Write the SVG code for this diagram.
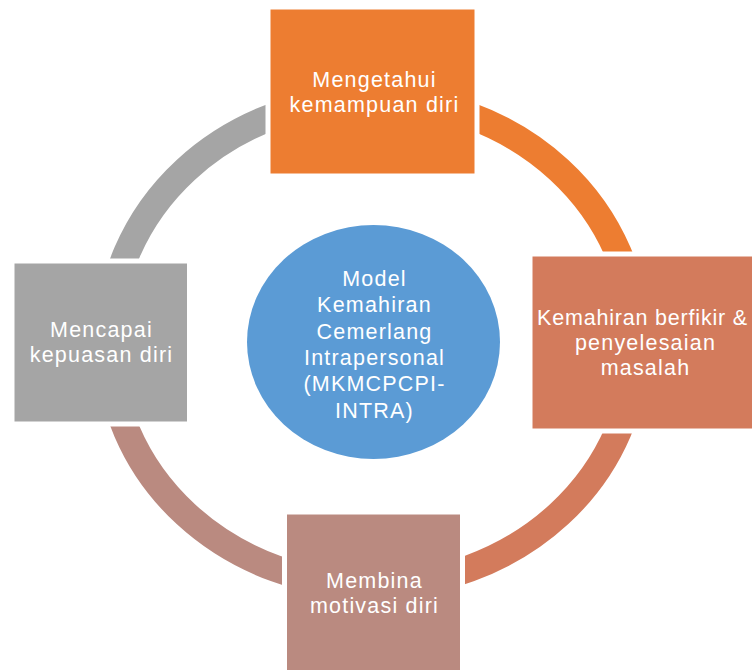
<svg xmlns="http://www.w3.org/2000/svg" width="752" height="670" viewBox="0 0 752 670">
<style>
.ring{fill:none;stroke-width:27}
.box{stroke:#ffffff;stroke-width:5}
.t{font-family:"Liberation Sans",Arial,sans-serif;font-size:21.5px;fill:#ffffff;text-anchor:middle;letter-spacing:1.2px}
</style>
<rect x="0" y="0" width="752" height="670" fill="#ffffff"/>
<g id="connectors">
<path class="ring" stroke="#ED7D31" d="M 372.5 98.5 A 264 243.5 0 0 1 636.5 342"/>
<path class="ring" stroke="#D37B5C" d="M 636.5 342 A 264 243.5 0 0 1 372.5 585.5"/>
<path class="ring" stroke="#BA8A80" d="M 372.5 585.5 A 264 243.5 0 0 1 108.5 342"/>
<path class="ring" stroke="#A5A5A5" d="M 108.5 342 A 264 243.5 0 0 1 372.5 98.5"/>
</g>
<g id="center">
<ellipse cx="373.5" cy="342" rx="126.5" ry="117" fill="#5B9BD5"/>
<text class="t" x="374.5" y="286">Model</text>
<text class="t" x="374.5" y="312.3">Kemahiran</text>
<text class="t" x="374.5" y="338.6">Cemerlang</text>
<text class="t" x="374.5" y="364.9">Intrapersonal</text>
<text class="t" x="374.5" y="391.2">(MKMCPCPI-</text>
<text class="t" x="374.5" y="417.5">INTRA)</text>
</g>
<g id="top">
<rect class="box" x="268" y="7" width="209" height="169" fill="#ED7D31"/>
<text class="t" x="374.5" y="86.7">Mengetahui</text>
<text class="t" x="374.5" y="111.7">kemampuan diri</text>
</g>
<g id="right">
<rect class="box" x="530" y="254" width="232" height="177" fill="#D37B5C"/>
<text class="t" x="642.5" y="324.5" style="letter-spacing:0.8px">Kemahiran berfikir &amp;</text>
<text class="t" x="645.5" y="349.5">penyelesaian</text>
<text class="t" x="645.5" y="374.5">masalah</text>
</g>
<g id="bottom">
<rect class="box" x="284.5" y="512" width="178" height="170" fill="#BA8A80"/>
<text class="t" x="374.5" y="588.3">Membina</text>
<text class="t" x="374.5" y="612.5">motivasi diri</text>
</g>
<g id="left">
<rect class="box" x="12" y="261" width="177.5" height="163" fill="#A5A5A5"/>
<text class="t" x="101.5" y="336.7">Mencapai</text>
<text class="t" x="101.5" y="361.7">kepuasan diri</text>
</g>
</svg>
